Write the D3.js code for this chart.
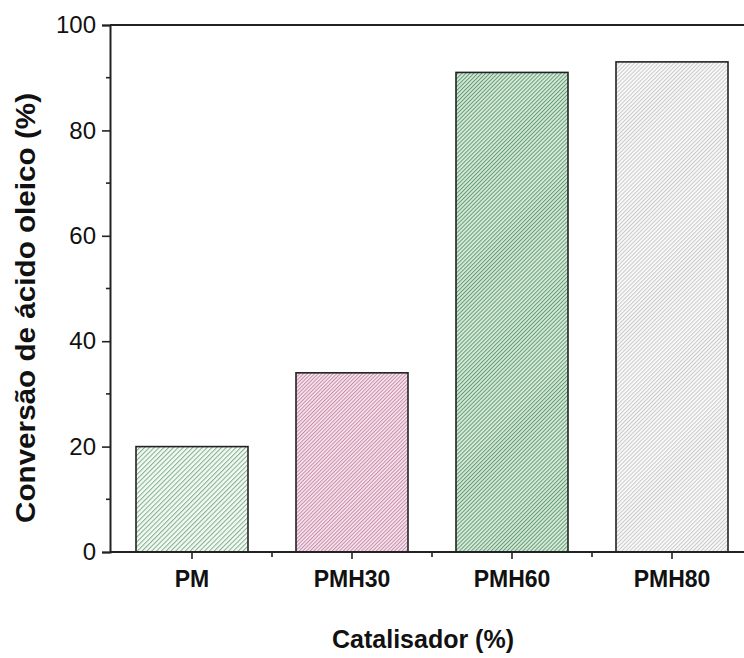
<!DOCTYPE html>
<html>
<head>
<meta charset="utf-8">
<script src="https://cdn.jsdelivr.net/npm/d3@7"></script>
<style>
  body { margin: 0; background: #fff; }
  svg { display: block; font-family: "Liberation Sans", Arial, sans-serif; }
</style>
</head>
<body>
<div id="chart"></div>
<script>
// data
const categories = ["PM", "PMH30", "PMH60", "PMH80"];
const conversion = [20, 34, 91, 93];
const yTicks = [0, 20, 40, 60, 80, 100];
const yMinorTicks = [10, 30, 50, 70, 90];

// hatch styles, one per bar: background, line colour, spacing
const hatch = [
  {bg: "#f3f9f4", line: "#7fb08c", gap: 3.4},
  {bg: "#f6e7ef", line: "#c98aa8", gap: 2.6},
  {bg: "#d6ecda", line: "#679a75", gap: 2.8},
  {bg: "#fafafa", line: "#c9c9c9", gap: 2.8}
];

const width = 744, height = 658;
const margin = {top: 25, right: -8, bottom: 106, left: 110};

const svg = d3.select("#chart")
  .append("svg")
    .attr("width", width)
    .attr("height", height);

const defs = svg.append("defs");
hatch.forEach((h, i) => {
  const p = defs.append("pattern")
    .attr("id", "hatch" + i)
    .attr("patternUnits", "userSpaceOnUse")
    .attr("width", h.gap)
    .attr("height", 10)
    .attr("patternTransform", "rotate(45)");
  p.append("rect")
    .attr("width", h.gap).attr("height", 10)
    .attr("fill", h.bg);
  p.append("line")
    .attr("x1", 0.5).attr("x2", 0.5)
    .attr("y1", 0).attr("y2", 10)
    .attr("stroke", h.line)
    .attr("stroke-width", 1);
});

const x = d3.scaleBand()
  .domain(categories)
  .range([margin.left + 2, width - margin.right])
  .paddingInner(0.3)
  .paddingOuter(0.15);

const y = d3.scaleLinear()
  .domain([0, 100])
  .range([height - margin.bottom, margin.top]);

// bars
svg.append("g")
  .selectAll("rect")
  .data(categories)
  .join("rect")
    .attr("x", d => x(d))
    .attr("y", (d, i) => y(conversion[i]))
    .attr("width", x.bandwidth())
    .attr("height", (d, i) => y(0) - y(conversion[i]))
    .attr("fill", (d, i) => `url(#hatch${i})`)
    .attr("stroke", "#222")
    .attr("stroke-width", 1.6);

// frame top line
svg.append("line")
  .attr("x1", margin.left).attr("x2", width - margin.right)
  .attr("y1", y(100)).attr("y2", y(100))
  .attr("stroke", "#222").attr("stroke-width", 2);

// y axis
const yAxis = svg.append("g")
  .attr("transform", `translate(${margin.left},0)`)
  .call(d3.axisLeft(y).tickValues(yTicks).tickSize(8).tickPadding(6));
yAxis.selectAll("text")
  .attr("font-size", 24)
  .attr("font-family", "Liberation Sans, Arial, sans-serif")
  .attr("fill", "#111");
yAxis.select(".domain").attr("stroke", "#222").attr("stroke-width", 2);
yAxis.selectAll(".tick line").attr("stroke", "#222").attr("stroke-width", 1.6);

svg.append("g")
  .attr("transform", `translate(${margin.left},0)`)
  .selectAll("line")
  .data(yMinorTicks)
  .join("line")
    .attr("x1", -4).attr("x2", 0)
    .attr("y1", d => y(d)).attr("y2", d => y(d))
    .attr("stroke", "#222").attr("stroke-width", 1.6);

// x axis
const xAxis = svg.append("g")
  .attr("transform", `translate(0,${y(0)})`)
  .call(d3.axisBottom(x).tickSize(7).tickPadding(12).tickSizeOuter(0));
xAxis.select(".domain")
  .attr("d", `M${margin.left},0H${width - margin.right}`)
  .attr("stroke", "#222").attr("stroke-width", 2);
xAxis.selectAll(".tick line").attr("stroke", "#222").attr("stroke-width", 1.6);
xAxis.selectAll("text")
  .attr("font-size", 23)
  .attr("font-weight", "bold")
  .attr("font-family", "Liberation Sans, Arial, sans-serif")
  .attr("fill", "#111");

// minor ticks between categories
svg.append("g")
  .attr("transform", `translate(0,${y(0)})`)
  .selectAll("line")
  .data(categories.slice(1))
  .join("line")
    .attr("x1", d => x(d) - x.step() * x.paddingInner() / 2)
    .attr("x2", d => x(d) - x.step() * x.paddingInner() / 2)
    .attr("y1", 0).attr("y2", 5)
    .attr("stroke", "#222").attr("stroke-width", 1.6);

// axis titles
svg.append("text")
  .attr("x", 423)
  .attr("y", 648)
  .attr("text-anchor", "middle")
  .attr("font-size", 25)
  .attr("font-weight", "bold")
  .attr("fill", "#111")
  .text("Catalisador (%)");

svg.append("text")
  .attr("transform", `translate(35,308) rotate(-90)`)
  .attr("text-anchor", "middle")
  .attr("font-size", 27)
  .attr("font-weight", "bold")
  .attr("fill", "#111")
  .attr("textLength", 430)
  .attr("lengthAdjust", "spacingAndGlyphs")
  .text("Conversão de ácido oleico (%)");
</script>
</body>
</html>
